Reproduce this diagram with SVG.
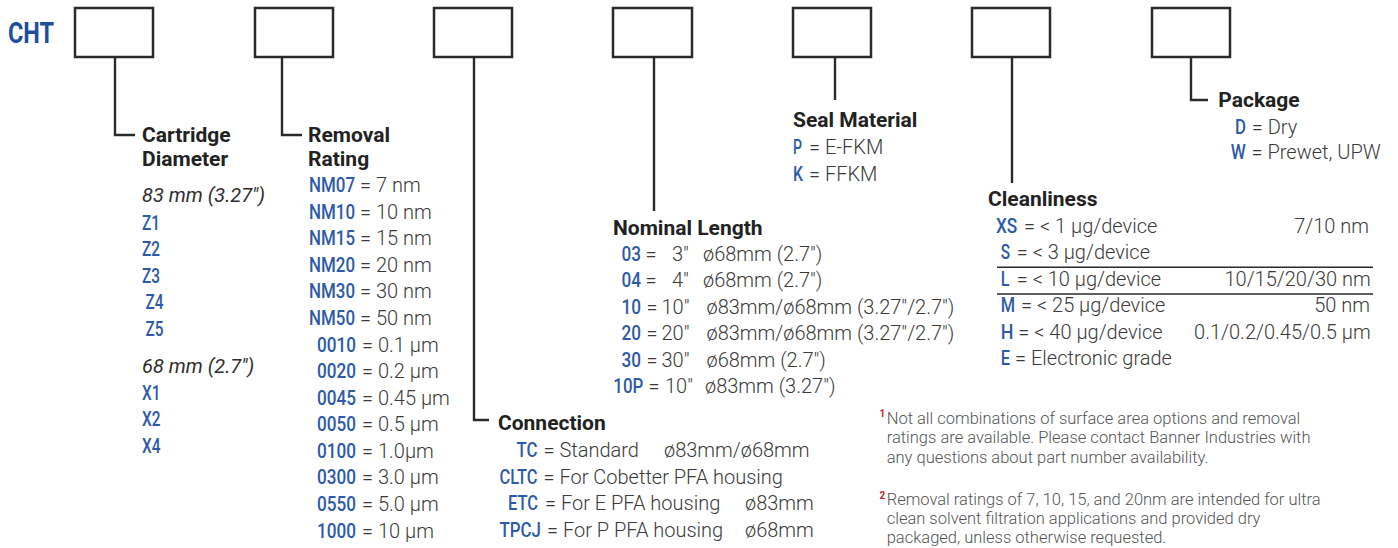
<svg xmlns="http://www.w3.org/2000/svg" width="1398" height="548" viewBox="0 0 1398 548">
<style>
text{font-family:Roboto,"Liberation Sans",sans-serif}
.box{fill:#fff;stroke:#2a2a2a;stroke-width:2.5}
.ln{fill:none;stroke:#2a2a2a;stroke-width:2.4}
.sep{stroke:#2a2a2a;stroke-width:1.5}
.h{font-weight:700;font-size:21px;fill:#222}
.c{font-weight:500;font-size:20px;fill:#2d5aa9}
.v{font-weight:300;font-size:20px;fill:#3a3a3a}
.it{font-style:italic;font-weight:400;font-size:20px;fill:#2e2e2e}
.fn{font-weight:300;font-size:16.5px;fill:#555}
.sup{font-weight:700;font-size:10px;fill:#c4262e}
</style>
<rect width="1398" height="548" fill="#fff"/>

<g id="prefix">
<text x="8" y="43" font-size="29" font-weight="700" fill="#1e4f9f" textLength="46" lengthAdjust="spacingAndGlyphs">CHT</text>
</g>

<g id="boxes">
<rect class="box" x="75" y="8" width="78" height="49"/>
<rect class="box" x="255" y="8" width="78" height="49"/>
<rect class="box" x="434" y="8" width="78" height="49"/>
<rect class="box" x="613" y="8" width="79" height="49"/>
<rect class="box" x="793" y="8" width="78" height="49"/>
<rect class="box" x="972" y="8" width="78" height="49"/>
<rect class="box" x="1152" y="8" width="78" height="49"/>
</g>

<g id="connectors">
<polyline class="ln" points="115,57 115,135 135,135"/>
<polyline class="ln" points="282,57 282,135 302,135"/>
<polyline class="ln" points="474,57 474,420 489,420"/>
<line class="ln" x1="654" y1="57" x2="654" y2="211"/>
<line class="ln" x1="835" y1="57" x2="835" y2="100"/>
<line class="ln" x1="1012" y1="57" x2="1012" y2="183"/>
<polyline class="ln" points="1191,57 1191,100 1208,100"/>
</g>

<g id="cartridge-diameter">
<text class="h" x="142" y="142">Cartridge</text>
<text class="h" x="142" y="166">Diameter</text>
<text class="it" x="142" y="202">83 mm (3.27")</text>
<text class="c" x="142" y="230" textLength="18" lengthAdjust="spacingAndGlyphs">Z1</text>
<text class="c" x="142" y="256" textLength="18" lengthAdjust="spacingAndGlyphs">Z2</text>
<text class="c" x="142" y="283" textLength="18" lengthAdjust="spacingAndGlyphs">Z3</text>
<text class="c" x="145.5" y="309" textLength="18" lengthAdjust="spacingAndGlyphs">Z4</text>
<text class="c" x="145.5" y="336" textLength="18" lengthAdjust="spacingAndGlyphs">Z5</text>
<text class="it" x="142" y="373">68 mm (2.7")</text>
<text class="c" x="142" y="400" textLength="18.5" lengthAdjust="spacingAndGlyphs">X1</text>
<text class="c" x="142" y="426" textLength="18.5" lengthAdjust="spacingAndGlyphs">X2</text>
<text class="c" x="142" y="453" textLength="18.5" lengthAdjust="spacingAndGlyphs">X4</text>
</g>

<g id="removal-rating">
<text class="h" x="308" y="142">Removal</text>
<text class="h" x="308" y="166">Rating</text>
<text class="c" x="309" y="192" textLength="46" lengthAdjust="spacingAndGlyphs">NM07</text><text class="v" x="360" y="192">= 7 nm</text>
<text class="c" x="309" y="219" textLength="46" lengthAdjust="spacingAndGlyphs">NM10</text><text class="v" x="360" y="219">= 10 nm</text>
<text class="c" x="309" y="245" textLength="46" lengthAdjust="spacingAndGlyphs">NM15</text><text class="v" x="360" y="245">= 15 nm</text>
<text class="c" x="309" y="272" textLength="46" lengthAdjust="spacingAndGlyphs">NM20</text><text class="v" x="360" y="272">= 20 nm</text>
<text class="c" x="309" y="298" textLength="46" lengthAdjust="spacingAndGlyphs">NM30</text><text class="v" x="360" y="298">= 30 nm</text>
<text class="c" x="309" y="325" textLength="46" lengthAdjust="spacingAndGlyphs">NM50</text><text class="v" x="360" y="325">= 50 nm</text>
<text class="c" x="317" y="352" textLength="39" lengthAdjust="spacingAndGlyphs">0010</text><text class="v" x="362" y="352">= 0.1 µm</text>
<text class="c" x="317" y="378" textLength="39" lengthAdjust="spacingAndGlyphs">0020</text><text class="v" x="362" y="378">= 0.2 µm</text>
<text class="c" x="317" y="405" textLength="39" lengthAdjust="spacingAndGlyphs">0045</text><text class="v" x="362" y="405">= 0.45 µm</text>
<text class="c" x="317" y="431" textLength="39" lengthAdjust="spacingAndGlyphs">0050</text><text class="v" x="362" y="431">= 0.5 µm</text>
<text class="c" x="317" y="458" textLength="39" lengthAdjust="spacingAndGlyphs">0100</text><text class="v" x="362" y="458">= 1.0µm</text>
<text class="c" x="317" y="484" textLength="39" lengthAdjust="spacingAndGlyphs">0300</text><text class="v" x="362" y="484">= 3.0 µm</text>
<text class="c" x="317" y="511" textLength="39" lengthAdjust="spacingAndGlyphs">0550</text><text class="v" x="362" y="511">= 5.0 µm</text>
<text class="c" x="317" y="538" textLength="39" lengthAdjust="spacingAndGlyphs">1000</text><text class="v" x="362" y="538">= 10 µm</text>
</g>

<g id="connection">
<text class="h" x="498" y="430">Connection</text>
<text class="c" x="516.5" y="457" textLength="21" lengthAdjust="spacingAndGlyphs">TC</text><text class="v" y="457"><tspan x="543.5">= Standard</tspan><tspan x="664">ø83mm/ø68mm</tspan></text>
<text class="c" x="499.5" y="484" textLength="38" lengthAdjust="spacingAndGlyphs">CLTC</text><text class="v" x="543.5" y="484">= For Cobetter PFA housing</text>
<text class="c" x="508" y="510" textLength="30" lengthAdjust="spacingAndGlyphs">ETC</text><text class="v" y="510"><tspan x="545">= For E PFA housing</tspan><tspan x="745">ø83mm</tspan></text>
<text class="c" x="499.5" y="537" textLength="41.5" lengthAdjust="spacingAndGlyphs">TPCJ</text><text class="v" y="537"><tspan x="547">= For P PFA housing</tspan><tspan x="745">ø68mm</tspan></text>
</g>

<g id="nominal-length">
<text class="h" x="613" y="235">Nominal Length</text>
<text class="c" x="621.5" y="260.5" textLength="19.5" lengthAdjust="spacingAndGlyphs">03</text><text class="v" y="260.5"><tspan x="645.5">=</tspan><tspan x="672">3"</tspan><tspan x="703">ø68mm (2.7")</tspan></text>
<text class="c" x="621.5" y="287" textLength="19.5" lengthAdjust="spacingAndGlyphs">04</text><text class="v" y="287"><tspan x="645.5">=</tspan><tspan x="672">4"</tspan><tspan x="703">ø68mm (2.7")</tspan></text>
<text class="c" x="621.5" y="313.5" textLength="19.5" lengthAdjust="spacingAndGlyphs">10</text><text class="v" y="313.5"><tspan x="646.5">=</tspan><tspan x="661.5">10"</tspan><tspan x="706.5">ø83mm/ø68mm (3.27"/2.7")</tspan></text>
<text class="c" x="621.5" y="340" textLength="19.5" lengthAdjust="spacingAndGlyphs">20</text><text class="v" y="340"><tspan x="646.5">=</tspan><tspan x="661.5">20"</tspan><tspan x="706.5">ø83mm/ø68mm (3.27"/2.7")</tspan></text>
<text class="c" x="621.5" y="366.5" textLength="19.5" lengthAdjust="spacingAndGlyphs">30</text><text class="v" y="366.5"><tspan x="646.5">=</tspan><tspan x="661.5">30"</tspan><tspan x="706.5">ø68mm (2.7")</tspan></text>
<text class="c" x="613.3" y="393" textLength="30" lengthAdjust="spacingAndGlyphs">10P</text><text class="v" y="393"><tspan x="648.5">=</tspan><tspan x="665">10"</tspan><tspan x="705">ø83mm (3.27")</tspan></text>
</g>

<g id="seal-material">
<text class="h" x="793" y="127">Seal Material</text>
<text class="c" x="793" y="154" textLength="9" lengthAdjust="spacingAndGlyphs">P</text><text class="v" x="809" y="154">= E-FKM</text>
<text class="c" x="793" y="181" textLength="10" lengthAdjust="spacingAndGlyphs">K</text><text class="v" x="809" y="181">= FFKM</text>
</g>

<g id="cleanliness">
<text class="h" x="988" y="206" fill="#333">Cleanliness</text>
<text class="c" x="996" y="233" textLength="21.3" lengthAdjust="spacingAndGlyphs">XS</text><text class="v" x="1024" y="233">= &lt; 1 µg/device</text><text class="v" x="1369" y="233" text-anchor="end">7/10 nm</text>
<text class="c" x="1000.7" y="259" textLength="9.3" lengthAdjust="spacingAndGlyphs">S</text><text class="v" x="1016.7" y="259">= &lt; 3 µg/device</text>
<line class="sep" x1="997" y1="267.3" x2="1373" y2="267.3"/>
<text class="c" x="1000.7" y="285.5" textLength="8.7" lengthAdjust="spacingAndGlyphs">L</text><text class="v" x="1016.7" y="285.5">= &lt; 10 µg/device</text><text class="v" x="1370.7" y="285.5" text-anchor="end">10/15/20/30 nm</text>
<line class="sep" x1="997" y1="294" x2="1373" y2="294"/>
<text class="c" x="1000.7" y="312.3" textLength="14.3" lengthAdjust="spacingAndGlyphs">M</text><text class="v" x="1021" y="312.3">= &lt; 25 µg/device</text><text class="v" x="1370" y="312.3" text-anchor="end">50 nm</text>
<text class="c" x="1000.7" y="338.5" textLength="12.7" lengthAdjust="spacingAndGlyphs">H</text><text class="v" x="1018.3" y="338.5">= &lt; 40 µg/device</text><text class="v" x="1370.7" y="338.5" text-anchor="end">0.1/0.2/0.45/0.5 µm</text>
<text class="c" x="1000.7" y="365" textLength="9.3" lengthAdjust="spacingAndGlyphs">E</text><text class="v" x="1015" y="365">= Electronic grade</text>
</g>

<g id="package">
<text class="h" x="1218.3" y="107.3">Package</text>
<text class="c" x="1235" y="134" textLength="11" lengthAdjust="spacingAndGlyphs">D</text><text class="v" x="1251.7" y="134">= Dry</text>
<text class="c" x="1230.7" y="159.3" textLength="15" lengthAdjust="spacingAndGlyphs">W</text><text class="v" x="1251.5" y="159.3">= Prewet, UPW</text>
</g>

<g id="footnotes">
<text class="sup" x="879.5" y="417">1</text>
<text class="fn" x="886.7" y="423.5">Not all combinations of surface area options and removal</text>
<text class="fn" x="886.7" y="443">ratings are available. Please contact Banner Industries with</text>
<text class="fn" x="886.7" y="462.5">any questions about part number availability.</text>
<text class="sup" x="879.5" y="498.5">2</text>
<text class="fn" x="886.7" y="505">Removal ratings of 7, 10, 15, and 20nm are intended for ultra</text>
<text class="fn" x="886.7" y="524">clean solvent filtration applications and provided dry</text>
<text class="fn" x="886.7" y="543">packaged, unless otherwise requested.</text>
</g>
</svg>
